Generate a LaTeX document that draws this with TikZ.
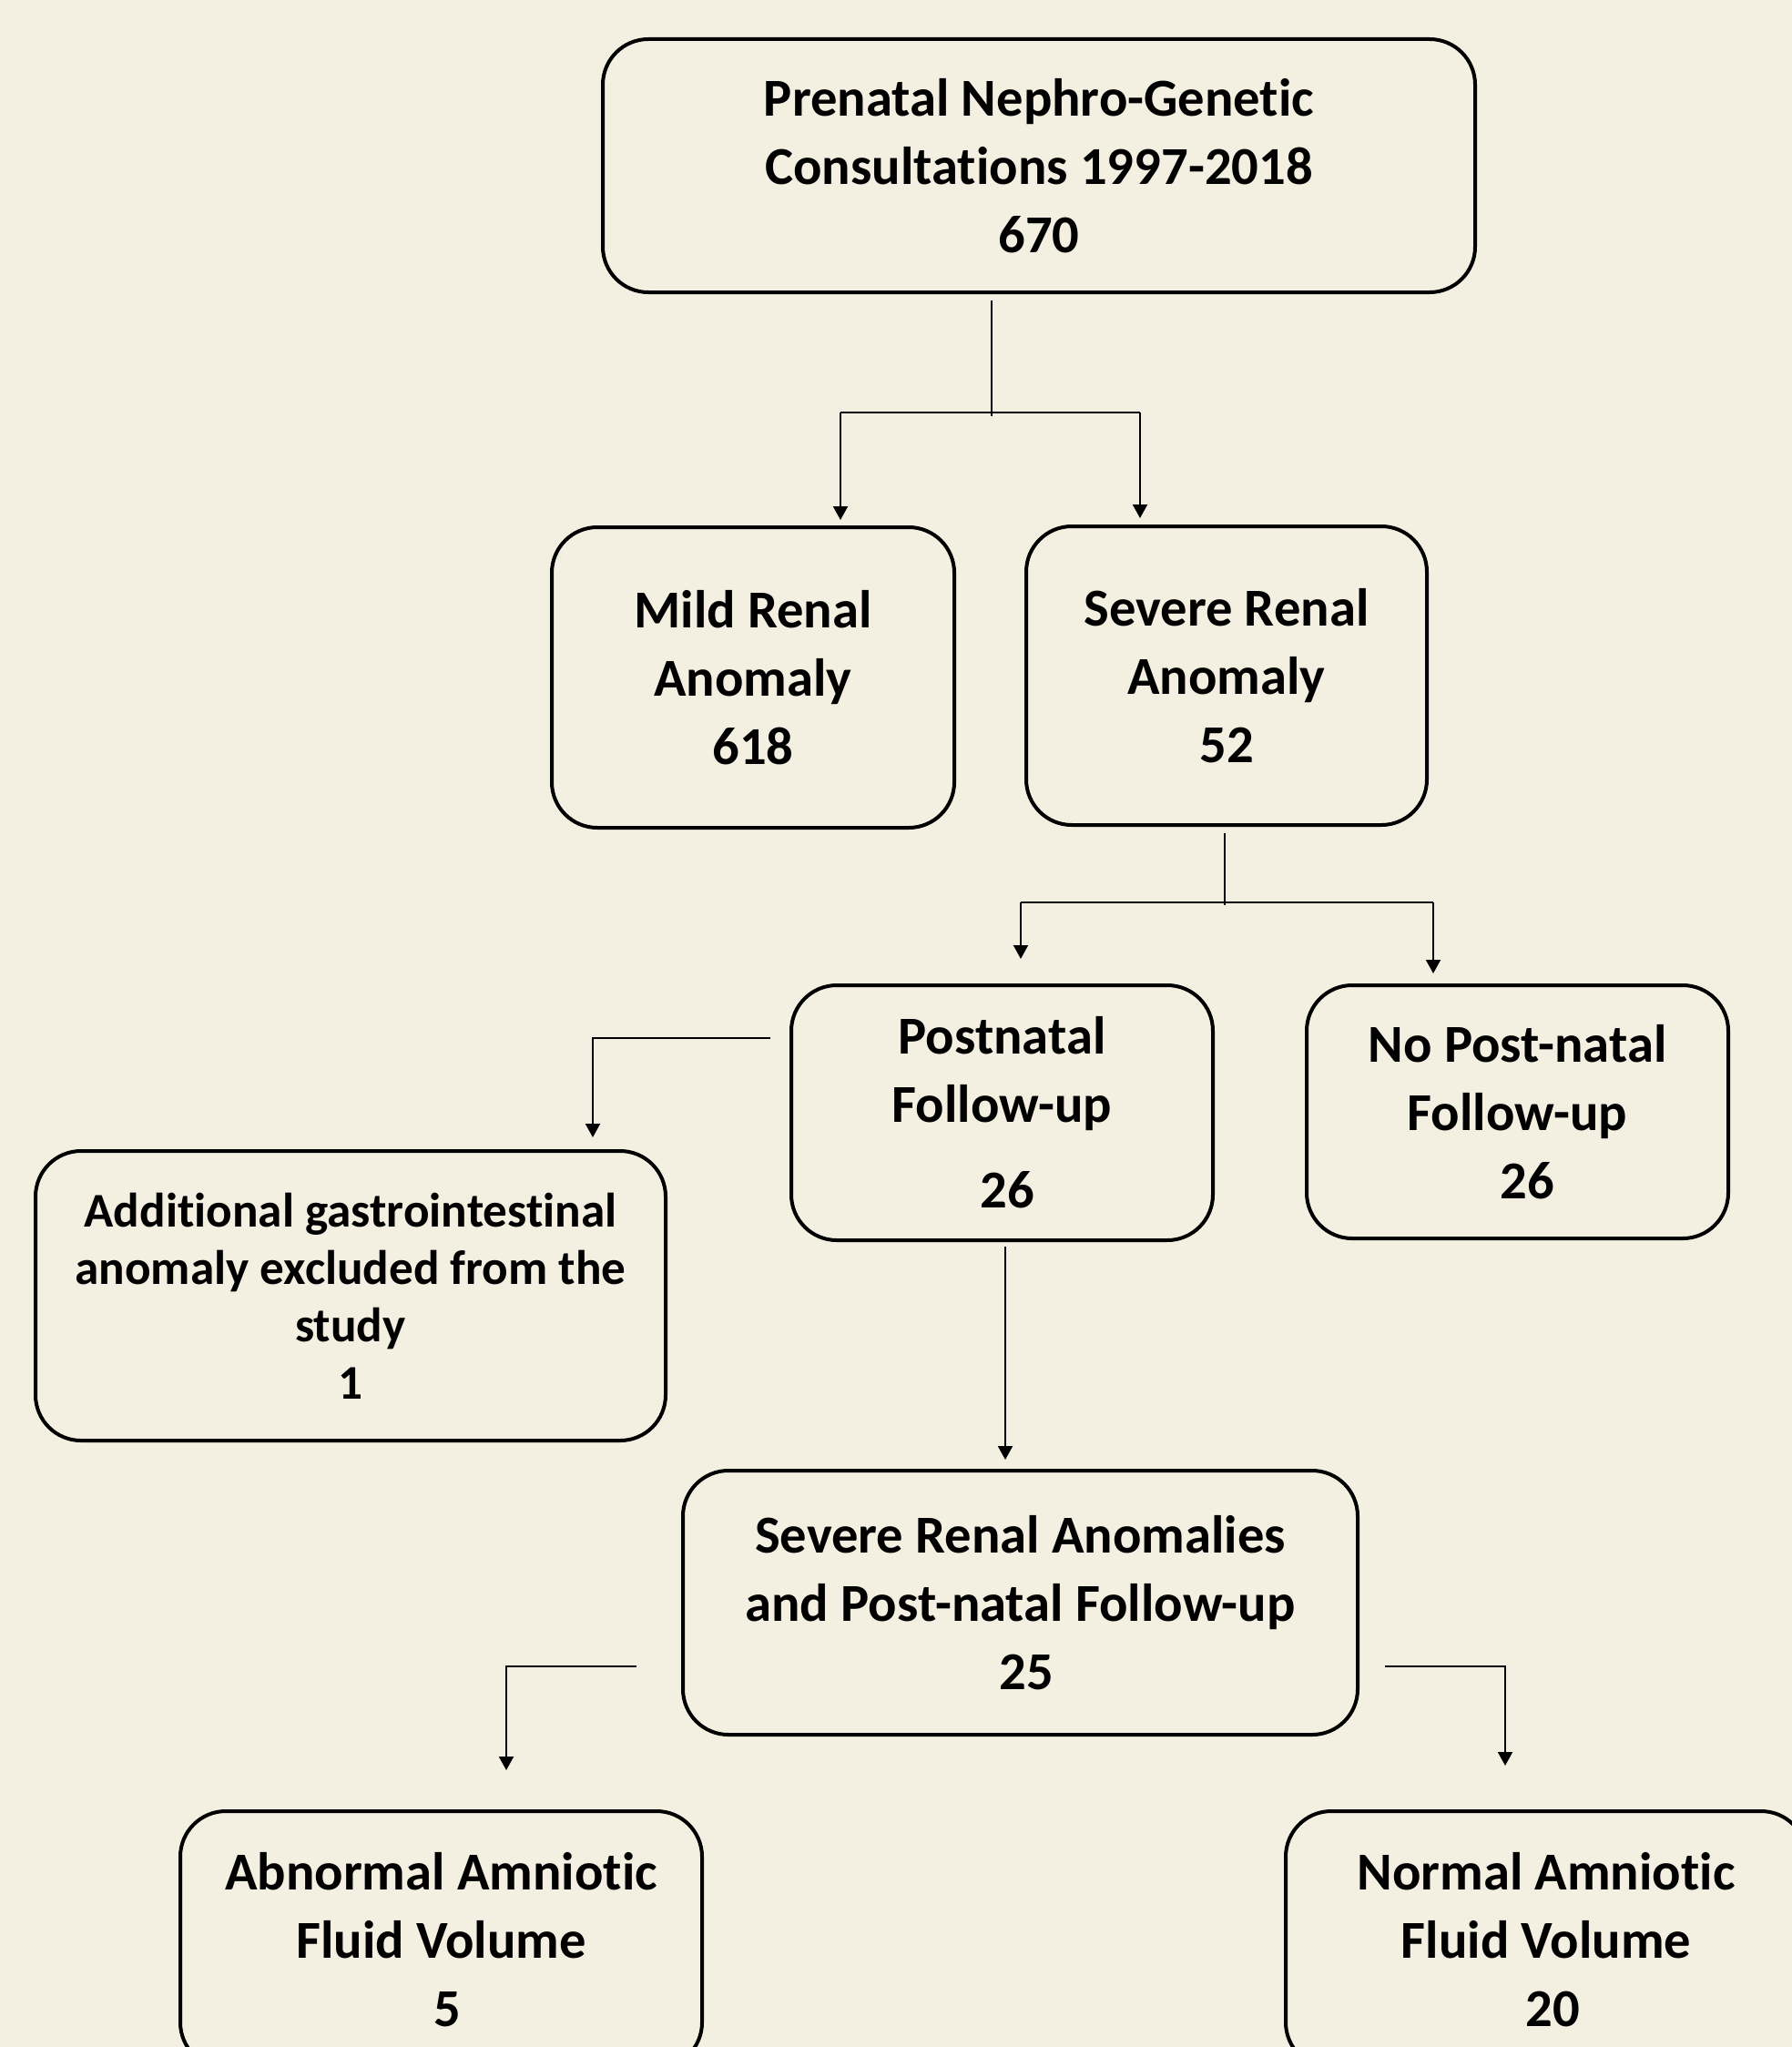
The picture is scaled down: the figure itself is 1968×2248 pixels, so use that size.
\documentclass[tikz,border=0pt]{standalone}
\usepackage{fontspec}
\setmainfont{Carlito}[Ligatures=NoCommon]
\usetikzlibrary{arrows.meta}
\definecolor{bgc}{RGB}{243,240,225}
\begin{document}
\begin{tikzpicture}[x=0.5pt,y=-0.5pt,
  box/.style={draw=black, line width=2pt, rounded corners=25pt, align=center,
    inner sep=0pt, font=\fontsize{29.3pt}{37.5pt}\selectfont\bfseries},
  smallbox/.style={box, font=\fontsize{26.6pt}{31.5pt}\selectfont\bfseries},
  conn/.style={draw=black, line width=1pt},
  arr/.style={-{Triangle[width=8pt,length=7.5pt]}}]
\useasboundingbox (0,0) rectangle (1968,2248);
\clip (0,0) rectangle (1968,2248);
\fill[bgc] (0,0) rectangle (1968,2248);

\node[box, minimum width=479pt, minimum height=139pt] (top) at (1141,182)
  {Prenatal Nephro-Genetic\\Consultations 1997-2018\\670};
\node[box, minimum width=221pt, minimum height=165pt] (mild) at (827,744)
  {Mild Renal\\Anomaly\\618};
\node[box, minimum width=220pt, minimum height=164pt] (severe) at (1347,742)
  {Severe Renal\\Anomaly\\52};
\node[box, minimum width=231.5pt, minimum height=140pt] (post) at (1100.5,1222)
  {Postnatal\\Follow-up\\[9.5pt]\hspace*{6pt}26};
\node[box, minimum width=231.5pt, minimum height=139pt] (nopost) at (1666.5,1221)
  {No Post-natal\\Follow-up\\\hspace*{11pt}26};
\node[smallbox, minimum width=346pt, minimum height=159pt] (addl) at (385,1423)
  {Additional gastrointestinal\\anomaly excluded from the\\study\\1};
\node[box, minimum width=370.5pt, minimum height=145pt] (sra) at (1120.5,1760)
  {Severe Renal Anomalies\\and Post-natal Follow-up\\\hspace*{7pt}25};
\node[box, minimum width=286.5pt, minimum height=141pt] (abn) at (484.5,2130)
  {Abnormal Amniotic\\Fluid Volume\\\hspace*{7pt}5};
\node[box, minimum width=286pt, minimum height=141pt] (norm) at (1698,2130)
  {Normal Amniotic\\Fluid Volume\\\hspace*{7pt}20};

% top -> mild / severe
\coordinate (a0) at (1089,330);
\coordinate (a1) at (1089,457);
\coordinate (al) at (923,453);
\coordinate (ar) at (1252,453);
\draw[conn] (a0) -- (a1);
\draw[conn] (al) -- (ar);
\draw[conn,arr] (al) -- ([yshift=3pt]al |- mild.north);
\draw[conn,arr] (ar) -- ([yshift=3.5pt]ar |- severe.north);

% severe -> post / nopost
\coordinate (b0) at (1345,915);
\coordinate (b1) at (1345,994);
\coordinate (bl) at (1121,991);
\coordinate (br) at (1574,991);
\draw[conn] (b0) -- (b1);
\draw[conn] (bl) -- (br);
\draw[conn,arr] (bl) -- ([yshift=13.5pt]bl |- post.north);
\draw[conn,arr] (br) -- ([yshift=5.5pt]br |- nopost.north);

% post -> additional
\coordinate (c0) at (846,1140);
\coordinate (c1) at (651,1140);
\draw[conn,arr] (c0) -- (c1) -- ([yshift=6.5pt]c1 |- addl.north);

% post -> sra
\coordinate (d0) at (1104,1369);
\draw[conn,arr] (d0) -- ([yshift=5pt]d0 |- sra.north);

% sra -> abnormal / normal
\coordinate (e0) at (699,1830);
\coordinate (e1) at (556,1830);
\draw[conn,arr] (e0) -- (e1) -- ([yshift=21.5pt]e1 |- abn.north);
\coordinate (f0) at (1521,1830);
\coordinate (f1) at (1653,1830);
\draw[conn,arr] (f0) -- (f1) -- ([yshift=24pt]f1 |- norm.north);
\end{tikzpicture}
\end{document}
